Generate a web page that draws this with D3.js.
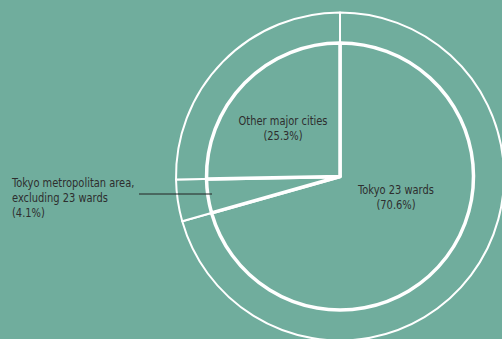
<!DOCTYPE html>
<html><head><meta charset="utf-8">
<script src="https://cdn.jsdelivr.net/npm/d3@7/dist/d3.min.js"></script>
<style>
html,body{margin:0;padding:0;background:#70ad9d;}
svg{display:block;}
text{font-family:"DejaVu Sans Condensed","Liberation Sans Narrow",sans-serif;font-size:12.8px;fill:#2e2e2e;}
</style></head><body>
<script>
const categories = ["Tokyo 23 wards", "Tokyo metropolitan area, excluding 23 wards", "Other major cities"];
const values = [70.6, 4.1, 25.3];
const labelLines = [["Tokyo 23 wards", "(70.6%)"], ["Tokyo metropolitan area,", "excluding 23 wards", "(4.1%)"], ["Other major cities", "(25.3%)"]];

const W = 502, H = 339, bg = "#70ad9d";
const svg = d3.select("body").append("svg").attr("width", W).attr("height", H);
svg.append("rect").attr("width", W).attr("height", H).attr("fill", bg);
const cx = 340, cy = 176.5, rOuter = 164, rInner = 133.5;
const g = svg.append("g").attr("transform", `translate(${cx},${cy})`);
const data = categories.map((c, i) => ({c, v: values[i], lines: labelLines[i]}));
const pie = d3.pie().value(d => d.v).sort(null);
const arcs = pie(data);
const outerArc = d3.arc().innerRadius(0).outerRadius(rOuter);
const innerArc = d3.arc().innerRadius(0).outerRadius(rInner);
g.selectAll("path.o").data(arcs).join("path").attr("class", "o")
  .attr("d", outerArc).attr("fill", bg).attr("stroke", "#fff").attr("stroke-width", 2).attr("stroke-linejoin", "round");
g.selectAll("path.i").data(arcs).join("path").attr("class", "i")
  .attr("d", innerArc).attr("fill", bg).attr("stroke", "#fff").attr("stroke-width", 3.5).attr("stroke-linejoin", "round");

// labels
const lh = 15.2, sx = 0.86;
const labelPos = [
  {x: 56, y: 17, anchor: "middle"},
  {x: -328, y: 10, anchor: "start"},
  {x: -57, y: -52, anchor: "middle"}
];
arcs.forEach((a, i) => {
  const p = labelPos[i];
  const t = g.append("g").attr("transform", `translate(${p.x},${p.y}) scale(${sx},1)`)
    .append("text").attr("text-anchor", p.anchor);
  a.data.lines.forEach((l, j) => {
    t.append("tspan").attr("x", 0).attr("y", j * lh).text(l);
  });
});
// leader line for small slice
g.append("line").attr("x1", -201).attr("x2", -128).attr("y1", 17.5).attr("y2", 17.5)
  .attr("stroke", "#222").attr("stroke-width", 1);
</script>
</body></html>
